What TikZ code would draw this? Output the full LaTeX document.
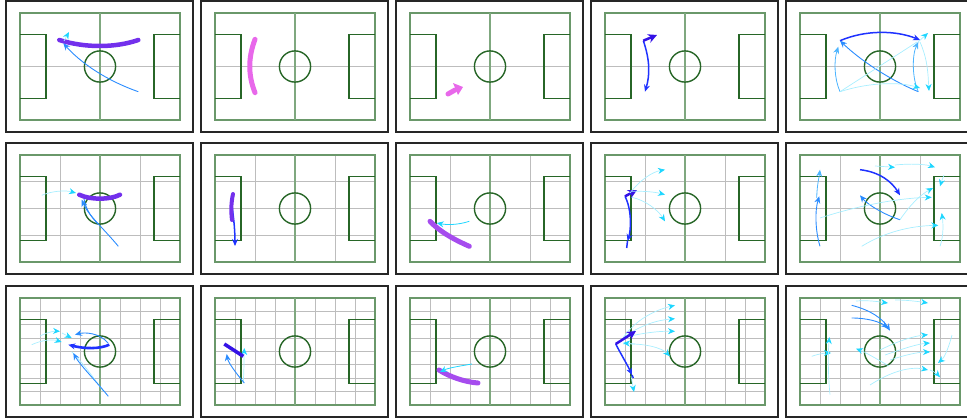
\documentclass[tikz,border=0pt]{standalone}
\usetikzlibrary{arrows.meta}
\definecolor{pitchgreen}{HTML}{6A986A}
\definecolor{boxgreen}{HTML}{276627}
\definecolor{halfgreen}{HTML}{7FA87F}
\definecolor{gridgray}{HTML}{BDBDBD}
\definecolor{trackpurple}{HTML}{7330EC}
\definecolor{trackviolet}{HTML}{A64CEE}
\definecolor{trackpink}{HTML}{E868EA}
\definecolor{carryblue}{HTML}{1F32FF}
\definecolor{wedgeblue}{HTML}{3412E6}
\definecolor{passblue}{HTML}{2A8CFF}
\definecolor{lightpass}{HTML}{4CB4FF}
\definecolor{cyanhead}{HTML}{1ED6FF}
\definecolor{palecyan}{HTML}{A8EEFF}
\begin{document}
\begin{tikzpicture}[x=1pt, y=-1pt, >={Stealth[length=7pt,width=6pt]},
  panelframe/.style={draw=black!85, line width=1.3pt},
  pitchline/.style={draw=pitchgreen, line width=1.1pt},
  boxline/.style={draw=boxgreen, line width=1.4pt},
  gridline/.style={draw=gridgray, line width=1pt},
  halfline/.style={draw=halfgreen, line width=1.1pt},
  runtrack/.style={line width=4.5pt, line cap=round, draw=trackpurple},
  carry/.style={draw=carryblue, line width=1.5pt, ->},
  wedge/.style={draw=wedgeblue, line width=2.5pt, -{Stealth[length=9pt,width=9pt]}},
  pass/.style={draw=passblue, line width=0.9pt, ->},
  softpass/.style={draw=lightpass, line width=0.8pt, ->},
  fadepass/.style={draw=palecyan, line width=0.7pt, -{Stealth[length=7pt,width=6pt,color=cyanhead]}}]
  \useasboundingbox (0,0) rectangle (967,418);
  % pitches: one row per grid size
  \foreach \c in {0,...,4}{
    \foreach \fy/\n in {1/2,143/4,286/8}{
      \pgfmathtruncatemacro{\fx}{6+195*\c}
      \pgfmathtruncatemacro{\m}{\n-1}
      \begin{scope}[shift={(\fx+14,\fy+12)}]
        \draw[panelframe] (-14,-12) rectangle (173,119);
        \foreach \k in {1,...,\m}{
          \draw[gridline] ({\k*160/\n},0) -- ({\k*160/\n},107);
          \draw[gridline] (0,{\k*107/\n}) -- (160,{\k*107/\n});
        }
        \draw[pitchline] (0,0) rectangle (160,107);
        \draw[halfline] (80,0) -- (80,107);
        \draw[boxline] (0,21.7) -- (26,21.7) -- (26,85.7) -- (0,85.7);
        \draw[boxline] (160,21.7) -- (134,21.7) -- (134,85.7) -- (160,85.7);
        \draw[boxline] (80,53.5) circle (15.6);
      \end{scope}
    }
  }

  % row 1
  \draw[runtrack] (59.3,40) .. controls (85,48) and (115,48) .. (138.3,40);
  \draw[pass] (138.3,91.7) .. controls (105,80) and (80,62) .. (63.3,43.3);
  \draw[fadepass] (64,41) -- (69,32);

  \draw[runtrack, draw=trackpink, line width=5pt] (255,39.3) .. controls (248,58) and (248,75) .. (255,92.7);

  \draw[runtrack, draw=trackpink, line width=5pt] (448,94) -- (455,90);
  \fill[trackpink] (453,83) -- (463,87) -- (458,95) -- cycle;

  \draw[carry] (643.3,40.7) .. controls (650,60) and (650,75) .. (645,91.7);
  \draw[wedge] (643.3,40.7) -- (657,35);

  \draw[carry] (840,40.7) .. controls (865,30) and (895,30) .. (920,40);
  \draw[pass] (918.3,91.7) .. controls (890,80) and (860,60) .. (840,40.7);
  \draw[softpass] (840,91.7) .. controls (834,78) and (834,60) .. (838.3,46.7);
  \draw[softpass] (918.3,91.7) .. controls (912,78) and (912,55) .. (918.3,42);
  \draw[fadepass] (840,91.7) .. controls (870,82) and (900,82) .. (920,88);
  \draw[fadepass, -] (840,91.7) -- (917,42);
  \draw[fadepass] (918,42) -- (928,33);
  \draw[fadepass] (920,42) .. controls (928,60) and (928,75) .. (929,91);

  % row 2
  \draw[runtrack] (79.3,194.7) .. controls (90,200) and (110,200) .. (120,194.7);
  \draw[fadepass] (41.7,195.3) .. controls (52,191) and (65,190) .. (76,193);
  \draw[pass] (118.3,246.3) .. controls (105,230) and (88,215) .. (81.7,199.7);
  \draw[pass, -] (84,199) .. controls (86,210) and (92,218) .. (98,224);

  \draw[carry] (232,206) .. controls (234,220) and (235,232) .. (235,246);
  \draw[runtrack, line width=4pt] (233,194) .. controls (231,203) and (231,212) .. (232,220);

  \draw[runtrack, draw=trackviolet, line width=5pt] (430,221.3) .. controls (440,232) and (455,240) .. (469.3,246.3);
  \draw[softpass, draw=cyanhead] (469.3,221.3) .. controls (458,225) and (447,225) .. (436.7,223);

  \draw[carry] (625,196.3) .. controls (632,210) and (631,230) .. (627.5,241);
  \draw[carry, -] (627.5,241) -- (626.7,248);
  \draw[wedge] (625,196.3) -- (637,190);
  \draw[fadepass] (630,193) .. controls (640,180) and (652,172) .. (665,169.7);
  \draw[fadepass] (631.7,191.3) .. controls (645,191) and (655,192) .. (665,194.7);
  \draw[fadepass] (631.7,197.3) .. controls (645,200) and (658,210) .. (665,221.3);

  \draw[carry] (860,169.7) .. controls (880,172) and (892,182) .. (900,195.3);
  \draw[pass] (900,219.7) .. controls (885,215) and (868,205) .. (860,195.3);
  \draw[pass] (820,246.3) .. controls (815,230) and (815,210) .. (819.3,196.3);
  \draw[softpass] (816.7,198) .. controls (817,185) and (819,178) .. (820,169.7);
  \draw[fadepass] (875,166) -- (895,167.3);
  \draw[fadepass] (895,165) .. controls (915,163) and (928,165) .. (935,167.3);
  \draw[fadepass] (900,219.7) .. controls (910,205) and (920,195) .. (933,188);
  \draw[fadepass] (820,218) .. controls (860,205) and (900,198) .. (931.7,197.3);
  \draw[fadepass] (861.7,246.3) .. controls (885,232) and (910,226) .. (938.3,225.3);
  \draw[fadepass] (940,246.3) .. controls (944,235) and (943,222) .. (941.7,213);
  \draw[fadepass] (944,175) .. controls (942,180) and (941,183) .. (940,186.3);

  % row 3
  \draw[pass] (108,343) .. controls (100,333) and (85,332) .. (75,334.7);
  \draw[fadepass] (31.7,344.7) .. controls (42,340) and (52,339) .. (61.7,342);
  \draw[fadepass] (40,336) .. controls (48,332) and (55,331) .. (60,331.3);
  \draw[fadepass] (62,333) -- (71.7,338);
  \draw[fadepass, -] (103.3,391.3) .. controls (92,375) and (80,360) .. (71.7,351.7);
  \draw[pass] (108.3,396.3) .. controls (95,380) and (80,365) .. (73.3,353);
  \draw[carry, line width=2.6pt, <-] (68.3,344.7) .. controls (85,349) and (100,349) .. (109.3,344.7);

  \draw[fadepass] (243.3,383) .. controls (244,370) and (244,360) .. (244.3,348);
  \draw[pass] (244.3,383) .. controls (235,372) and (228,362) .. (226.7,354);
  \draw[carry, draw=wedgeblue, line width=3.5pt, -] (224.3,344) -- (243.3,356.3);

  \draw[runtrack, draw=trackviolet, line width=5pt] (439,370) .. controls (450,377) and (465,382) .. (478,383);
  \draw[softpass, draw=cyanhead] (472,364) .. controls (460,366) and (448,368) .. (440,372);

  \draw[fadepass] (623,338) .. controls (635,320) and (655,310) .. (675,305.3);
  \draw[fadepass] (623,338) .. controls (640,325) and (658,320) .. (675,318.7);
  \draw[fadepass] (623,338) .. controls (640,333) and (660,331) .. (675,331.3);
  \draw[fadepass] (623,344) .. controls (645,343) and (662,348) .. (670,356.3);
  \draw[fadepass] (631,376) -- (634,392);
  \draw[fadepass] (635,344) -- (623,343);
  \draw[carry] (615.7,344) .. controls (622,356) and (628,366) .. (632,375);
  \draw[carry, -] (632,375) -- (633.3,378);
  \draw[wedge] (615.7,344) -- (636,331);

  \draw[pass] (851.7,305.3) .. controls (870,310) and (882,318) .. (890,330.7);
  \draw[pass] (851.7,318) .. controls (868,318) and (880,322) .. (888,328);
  \draw[fadepass] (856,301) .. controls (870,300) and (880,302) .. (888,303);
  \draw[fadepass] (895,300) .. controls (905,300) and (915,301) .. (928,303);
  \draw[fadepass] (889,366) .. controls (875,358) and (865,352) .. (856,348.7);
  \draw[fadepass] (870,385) .. controls (890,372) and (910,366) .. (928,370);
  \draw[fadepass] (880,350) .. controls (900,340) and (915,336) .. (928,334.7);
  \draw[fadepass] (885,355) .. controls (905,348) and (918,344) .. (930,343);
  \draw[fadepass] (890,360) .. controls (905,355) and (918,352) .. (930,352);
  \draw[fadepass] (952,335) .. controls (948,350) and (944,358) .. (938,363);
  \draw[fadepass] (930,370) .. controls (935,372) and (938,375) .. (940,377.3);
  \draw[fadepass] (811.7,356.3) .. controls (818,354) and (825,353) .. (831,353);
  \draw[fadepass] (830,394.7) .. controls (828,375) and (828,355) .. (829.3,337);
\end{tikzpicture}
\end{document}
